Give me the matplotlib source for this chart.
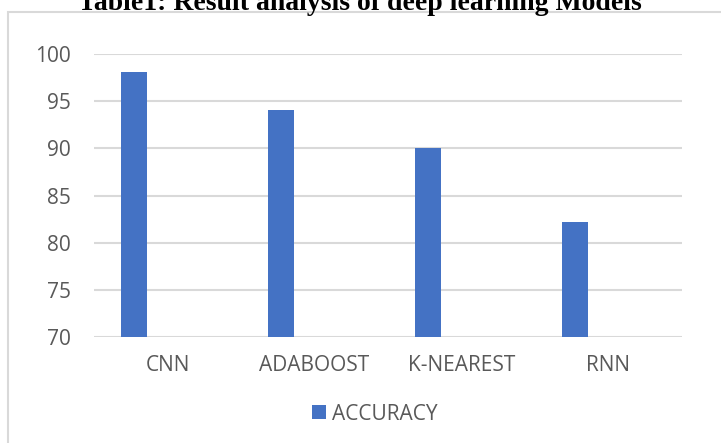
import matplotlib.pyplot as plt
from matplotlib.patches import Rectangle
import numpy as np

# modelle und genauigkeit
modelle = ["CNN", "ADABOOST", "K-NEAREST", "RNN"]
accuracy = [98.1, 94.1, 90.0, 82.2]
y_ticks = [70, 75, 80, 85, 90, 95, 100]

plt.rcParams['font.family'] = ['Open Sans', 'DejaVu Sans']

fig = plt.figure(figsize=(7.21, 4.43), dpi=100)

# rahmen um das diagramm
fig.patches.append(Rectangle((8 / 721, -0.05), 1.2, 1 - 12 / 443 + 0.05,
                             transform=fig.transFigure, fill=False,
                             edgecolor="#d9d9d9", linewidth=1.5, zorder=0))

# titel (oben abgeschnitten)
fig.text(360 / 721, 1 - 9.5 / 443, "Table1: Result analysis of deep learning Models",
         ha="center", va="baseline", fontsize=20, fontweight="bold",
         family="Liberation Serif", color="black")

ax = fig.add_axes([94 / 721, 1 - 337 / 443, 588 / 721, 283 / 443])
x = np.arange(len(modelle))
ax.bar(x - 0.228, accuracy, width=0.177, color="#4472C4",
       label="ACCURACY", zorder=3)

ax.set_xlim(-0.5, len(modelle) - 0.5)
ax.set_ylim(70, 100)
ax.set_yticks(y_ticks)
ax.set_xticks(x)
ax.set_xticklabels(modelle)
ax.grid(axis="y", color="#d9d9d9", linewidth=1.5, zorder=0)
for s in ax.spines.values():
    s.set_visible(False)
ax.tick_params(length=0, labelsize=15, labelcolor="#595959")
ax.tick_params(axis="y", pad=16.5)
ax.tick_params(axis="x", pad=13)

fig.legend(loc="center", bbox_to_anchor=(375 / 721, 1 - 414 / 443), frameon=False,
           fontsize=15, labelcolor="#595959", handlelength=0.67, handleheight=0.67,
           handletextpad=0.3)

fig.savefig("out.png", dpi=100)
